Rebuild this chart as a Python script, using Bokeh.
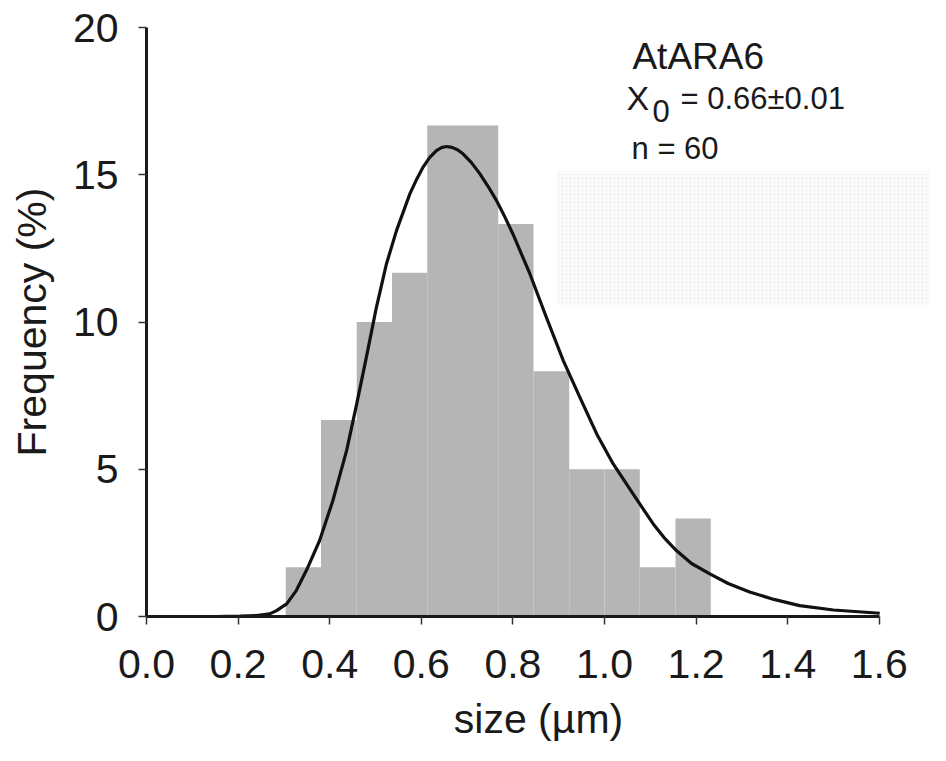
from bokeh.plotting import figure
from bokeh.models import Range1d, FixedTicker, BoxAnnotation, Label
from bokeh.embed import file_html
from bokeh.resources import INLINE

# ---- data ----
bin_edges = [0.304, 0.381, 0.459, 0.536, 0.613, 0.691, 0.768, 0.845, 0.923, 1.000, 1.077, 1.155, 1.232]
freq = [1.67, 6.67, 10.0, 11.67, 16.67, 16.67, 13.33, 8.33, 5.0, 5.0, 1.67, 3.33]

fit_x = [0.0, 0.10, 0.15, 0.204, 0.240, 0.269, 0.284, 0.306, 0.327, 0.349, 0.363, 0.378, 0.407,
         0.437, 0.459, 0.480, 0.502, 0.524, 0.546, 0.575, 0.590, 0.604, 0.618, 0.633, 0.644,
         0.655, 0.667, 0.679, 0.691, 0.709, 0.728, 0.746, 0.764, 0.782, 0.800, 0.837, 0.873,
         0.910, 0.946, 0.983, 1.019, 1.062, 1.106, 1.130, 1.157, 1.190, 1.230, 1.270, 1.317,
         1.370, 1.426, 1.500, 1.601]
fit_y = [0.0, 0.0, 0.0, 0.01, 0.03, 0.09, 0.20, 0.43, 0.88, 1.56, 2.05, 2.58, 3.94,
         5.64, 7.22, 8.80, 10.50, 11.98, 13.11, 14.35, 14.85, 15.26, 15.58, 15.82, 15.92,
         15.96, 15.93, 15.85, 15.71, 15.42, 15.03, 14.60, 14.13, 13.58, 12.99, 11.64, 10.16,
         8.69, 7.45, 6.20, 5.18, 4.17, 3.15, 2.68, 2.24, 1.80, 1.45, 1.12, 0.83,
         0.58, 0.37, 0.22, 0.11]

x_ticks = [0.0, 0.2, 0.4, 0.6, 0.8, 1.0, 1.2, 1.4, 1.6]
x_tick_labels = ["0.0", "0.2", "0.4", "0.6", "0.8", "1.0", "1.2", "1.4", "1.6"]
y_ticks = [0, 5, 10, 15, 20]

title_text = "AtARA6"
x0_text = "= 0.66\u00b10.01"
n_text = "n = 60"

FONT = "Liberation Sans"

p = figure(width=930, height=745, output_backend="svg", toolbar_location=None,
           x_range=Range1d(0, 784 / 458.0), y_range=Range1d(0, 20),
           min_border_left=146, min_border_right=0, min_border_top=27, min_border_bottom=129)
p.outline_line_color = None
p.grid.visible = False
p.background_fill_color = "white"
p.border_fill_color = "white"

# faint stippled patch (scan artefact in the reference)
p.add_layout(BoxAnnotation(left=0.897, right=784 / 458.0, bottom=10.56, top=15.14,
                           fill_color="#fcfcfc", fill_alpha=1.0, line_color=None,
                           hatch_pattern="dot", hatch_color="#ebebeb", hatch_scale=4,
                           level="underlay"))

lefts = bin_edges[:-1]
rights = bin_edges[1:]
p.quad(left=lefts, right=rights, bottom=[0] * len(freq), top=freq,
       fill_color="#b5b5b5", line_color=None)

p.line(fit_x, fit_y, line_color="#111111", line_width=3.2, line_join="round")

for ax in (p.xaxis[0], p.yaxis[0]):
    ax.axis_line_width = 3
    ax.axis_line_color = "#1a1a1a"
    ax.major_tick_line_color = "#333333"
    ax.major_tick_line_width = 1.5
    ax.major_tick_out = 8
    ax.major_tick_in = 0
    ax.minor_tick_line_color = None
    ax.major_label_text_font = FONT
    ax.major_label_text_font_size = "41px"
    ax.major_label_text_color = "#1a1a1a"
    ax.axis_label_text_font = FONT
    ax.axis_label_text_font_size = "41px"
    ax.axis_label_text_font_style = "normal"
    ax.axis_label_text_color = "#1a1a1a"

p.xaxis.ticker = FixedTicker(ticks=x_ticks)
p.xaxis.major_label_overrides = {t: l for t, l in zip(x_ticks, x_tick_labels)}
p.xaxis.bounds = (0, 1.6)
p.xaxis.axis_label = "size (\u00b5m)"
p.xaxis.major_label_standoff = 25
p.xaxis.axis_label_standoff = 15

p.yaxis.ticker = FixedTicker(ticks=y_ticks)
p.yaxis.bounds = (0, 20)
p.yaxis.axis_label = "Frequency (%)"
p.yaxis.major_label_standoff = 20
p.yaxis.axis_label_standoff = 15

p.add_layout(Label(x=1.061, y=19.02, text=title_text, text_font=FONT,
                   text_font_size="37px", text_color="#1a1a1a", text_baseline="alphabetic"))
p.add_layout(Label(x=1.048, y=17.59, text="X", text_font=FONT,
                   text_font_size="34px", text_color="#1a1a1a", text_baseline="alphabetic"))
p.add_layout(Label(x=1.105, y=17.18, text="0", text_font=FONT,
                   text_font_size="31px", text_color="#1a1a1a", text_baseline="alphabetic"))
p.add_layout(Label(x=1.166, y=17.59, text=x0_text, text_font=FONT,
                   text_font_size="31px", text_color="#1a1a1a", text_baseline="alphabetic"))
p.add_layout(Label(x=1.059, y=15.89, text=n_text, text_font=FONT,
                   text_font_size="31px", text_color="#1a1a1a", text_baseline="alphabetic"))

open("out.html", "w").write(file_html(p, INLINE))
